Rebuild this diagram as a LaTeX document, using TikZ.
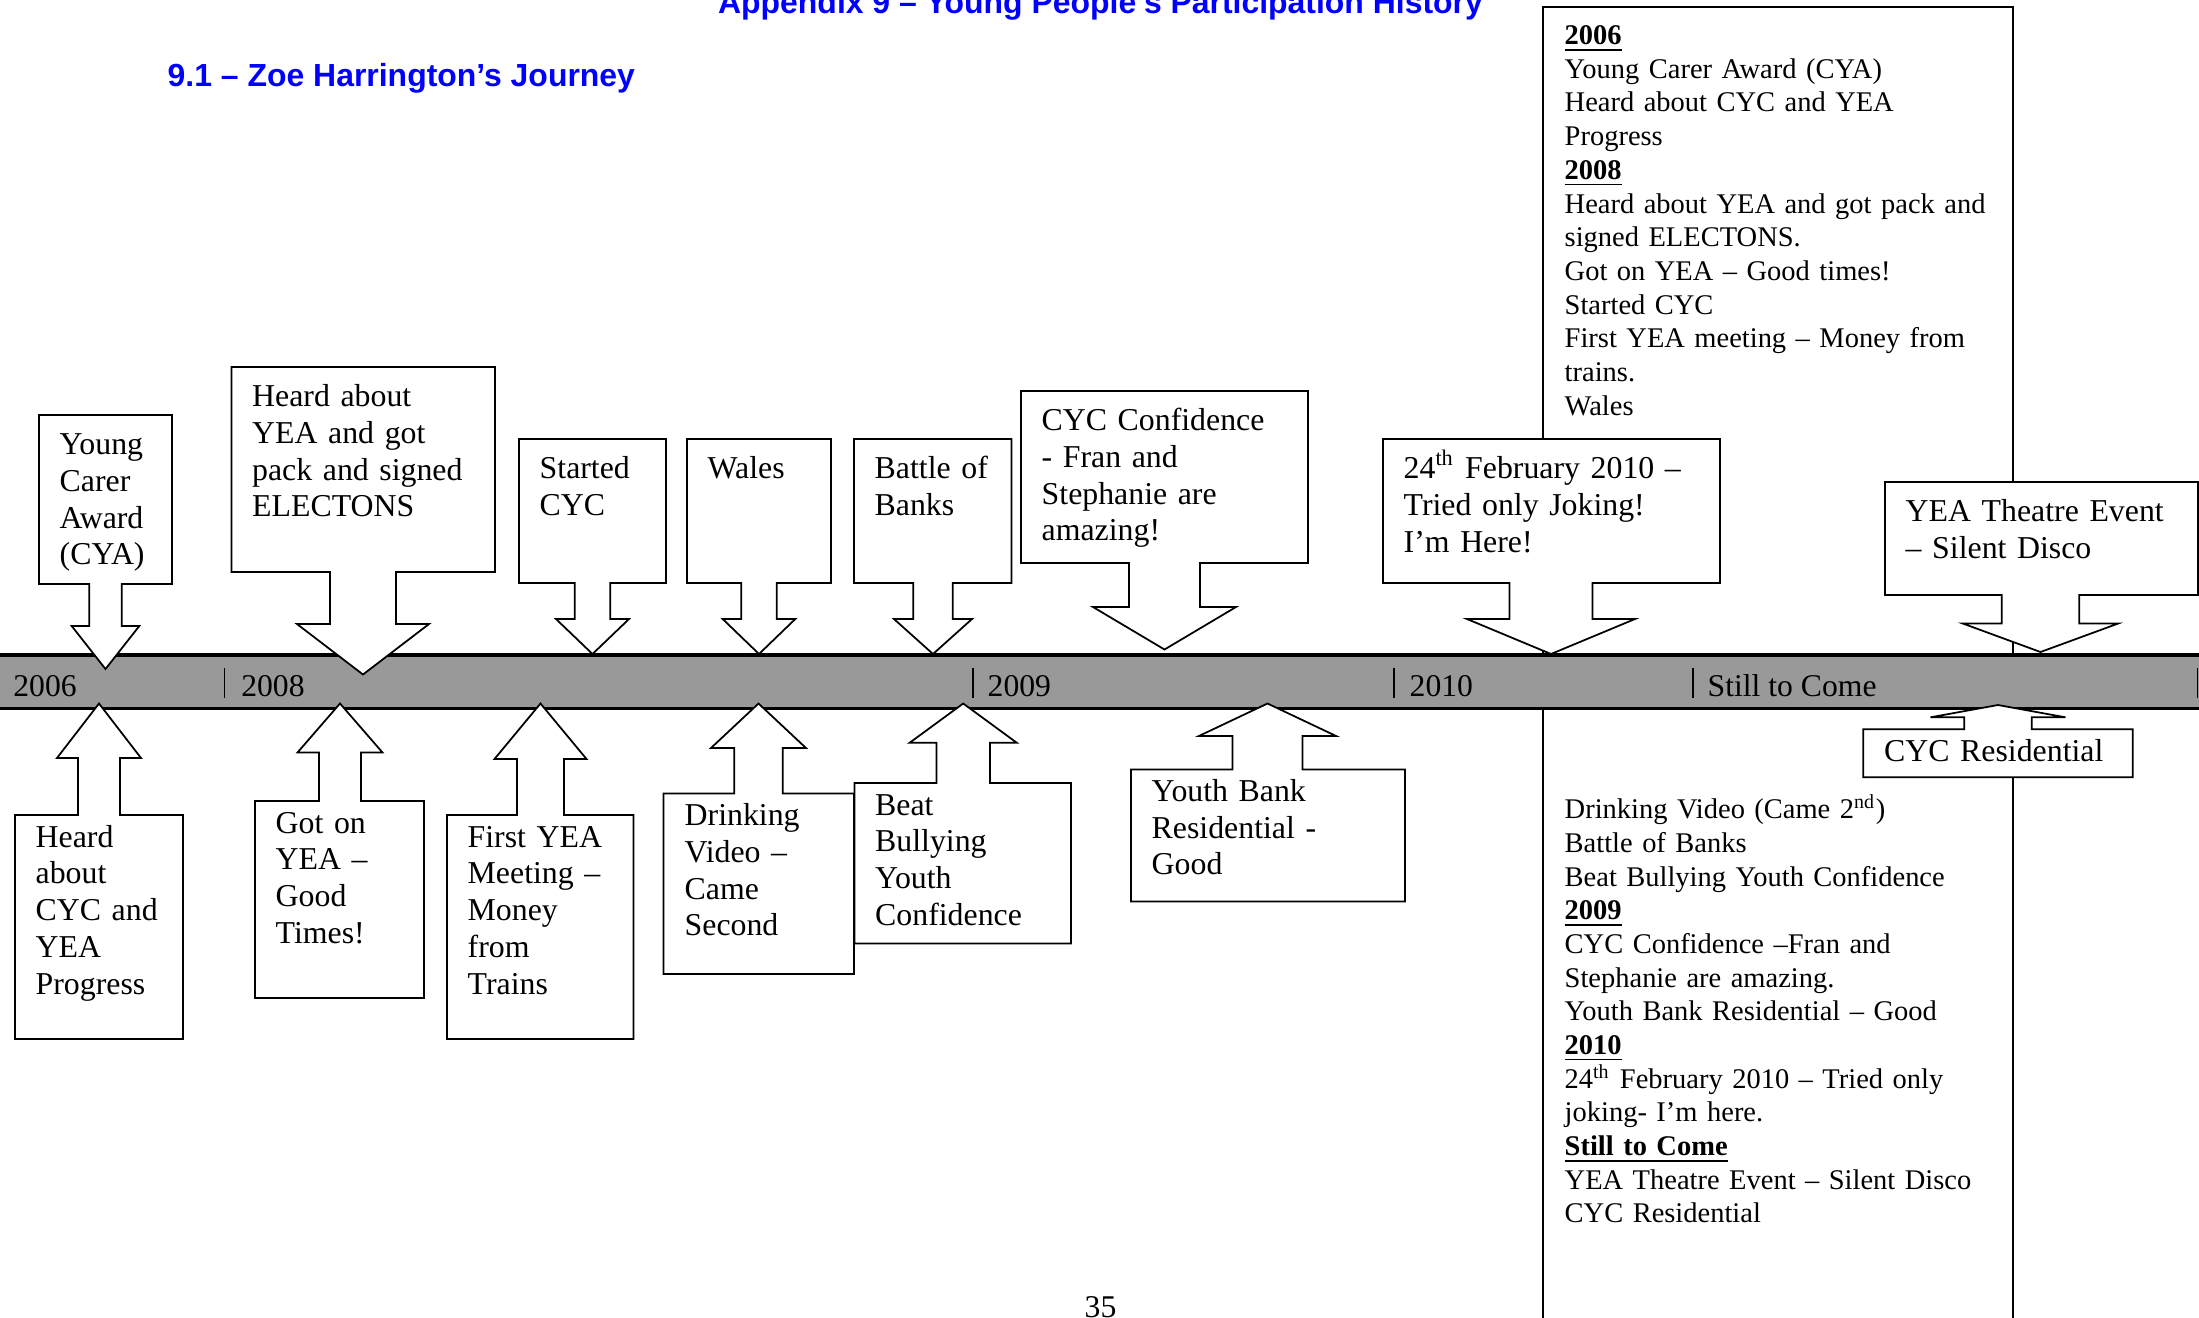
\documentclass[tikz,border=0pt]{standalone}
\usepackage{fontspec}
\setmainfont{Liberation Serif}
\newfontfamily\headfont{Liberation Sans}
\usepackage{xcolor}
\RequirePackage{tikz}
\usetikzlibrary{positioning,calc}

\definecolor{bandgray}{RGB}{153,153,153}
\definecolor{headblue}{RGB}{0,0,255}

% box edge at #2 and #4, arrow tip at (#5,#9)
\newcommand{\arrowcallout}[9]{%
  \draw[callout] (#1,#2) -- (#3,#2) -- (#3,#4) -- ({#5+#6},#4) -- ({#5+#6},#8)
    -- ({#5+#7},#8) -- (#5,#9) -- ({#5-#7},#8) -- ({#5-#6},#8) -- ({#5-#6},#4)
    -- (#1,#4) -- cycle;}

\begin{document}
\begin{tikzpicture}[x=0.01cm, y=-0.01cm,
    callout/.style={draw=black, line width=0.5pt, fill=white},
    bubble/.style={anchor=base west, inner sep=0pt, text width=5cm, align=left,
      font=\fontsize{9.05}{10.45}\selectfont},
    history/.style={anchor=base west, inner sep=0pt, text width=6cm, align=left,
      font=\fontsize{8.1}{9.58}\selectfont},
    yearlabel/.style={anchor=base west, inner sep=0pt, font=\fontsize{9}{10}\selectfont},
    heading/.style={inner sep=0pt, text=headblue, font=\headfont\bfseries\fontsize{9.08}{10}\selectfont}]
\useasboundingbox (0,0) rectangle (2199,1317);

\node[heading, anchor=base] (apptitle) at (1100.5,13.3) {Appendix 9 – Young People’s Participation History};
\node[heading, anchor=base west] (journey) at (167,86.2) {9.1 – Zoe Harrington’s Journey};

% summary box
\draw[line width=0.45pt, fill=white] (1543,7) rectangle (2013,1340);
\node[history] (hist1) at (1564,44.6) {\underline{\textbf{2006}}\\
  Young Carer Award (CYA)\\
  Heard about CYC and YEA\\
  Progress\\
  \underline{\textbf{2008}}\\
  Heard about YEA and got pack and\\
  signed ELECTONS.\\
  Got on YEA – Good times!\\
  Started CYC\\
  First YEA meeting – Money from\\
  trains.\\
  Wales};
\node[history] (hist2) at (1564,818.7) {Drinking Video (Came 2\textsuperscript{nd})\\
  Battle of Banks\\
  Beat Bullying Youth Confidence\\
  \underline{\textbf{2009}}\\
  CYC Confidence –Fran and\\
  Stephanie are amazing.\\
  Youth Bank Residential – Good\\
  \underline{\textbf{2010}}\\
  24\textsuperscript{th} February 2010 – Tried only\\
  joking- I’m here.\\
  \underline{\textbf{Still to Come}}\\
  YEA Theatre Event – Silent Disco\\
  CYC Residential};

% timeline
\fill[bandgray] (-10,655) rectangle (2210,708.7);
\draw[line width=1pt] (-10,655) -- (2210,655);
\draw[line width=1pt] (-10,708.7) -- (2210,708.7);
\foreach \tx in {224.5,973,1393.7,1693,2197.5}
  \draw[line width=0.5pt] (\tx,667.5) -- (\tx,698);
\node[yearlabel] (y2006) at (12.7,696) {2006};
\node[yearlabel] (y2008) at (240.6,696) {2008};
\node[yearlabel] (y2009) at (987,696) {2009};
\node[yearlabel] (y2010) at (1409,696) {2010};
\node[yearlabel] (ystill) at (1707,696) {Still to Come};

% callouts above
\arrowcallout{39}{415}{172}{584}{105.5}{16.2}{33.8}{626}{669}
\arrowcallout{231.5}{367}{495}{572}{363}{33}{66}{624}{674.5}
\arrowcallout{519}{439}{666}{583}{592.5}{17.7}{36.5}{619}{654}
\arrowcallout{687}{439}{831}{583}{759}{17.8}{36.3}{619}{654}
\arrowcallout{854}{439}{1011.5}{583}{933}{19.8}{39}{619}{654}
\arrowcallout{1021}{391}{1308}{563}{1164.5}{35.5}{71.5}{607}{649.5}
\arrowcallout{1383}{439}{1720}{583}{1551}{41.5}{84}{619}{654}
\arrowcallout{1885}{482}{2198}{595}{2040.5}{38.8}{77.7}{623.5}{652}

% callouts below
\arrowcallout{15}{1039}{183}{815}{99}{21}{42}{758}{703.5}
\arrowcallout{255}{998}{424}{801}{340}{21}{42.5}{752.5}{703.5}
\arrowcallout{447}{1039}{633.5}{815}{540.5}{23.5}{46}{759}{703.5}
\arrowcallout{663.6}{974}{854}{793.5}{758.5}{24.3}{47.5}{748}{703.5}
\arrowcallout{854.4}{943.6}{1071}{783}{963.2}{26.7}{53.5}{742.7}{703.5}
\arrowcallout{1131}{901.5}{1405}{769.4}{1267.5}{35}{68.6}{736}{703.5}
\arrowcallout{1863.3}{777.3}{2132.7}{729.3}{1998}{33.7}{67.5}{717.3}{705}

\node[bubble] (carer) at (59,454.5) {Young\\Carer\\Award\\(CYA)};
\node[bubble] (pack) at (251.5,406.5) {Heard about\\YEA and got\\pack and signed\\ELECTONS};
\node[bubble] (started) at (539,478.5) {Started\\CYC};
\node[bubble] (wales) at (707,478.5) {Wales};
\node[bubble] (battle) at (874,478.5) {Battle of\\Banks};
\node[bubble] (confid) at (1041,430.5) {CYC Confidence\\- Fran and\\Stephanie are\\amazing!};
\node[bubble] (feb) at (1403,478.5) {24\textsuperscript{th} February 2010 –\\Tried only Joking!\\I’m Here!};
\node[bubble] (theatre) at (1905,521.5) {YEA Theatre Event\\– Silent Disco};

\node[bubble] (progress) at (35,847) {Heard\\about\\CYC and\\YEA\\Progress};
\node[bubble] (goton) at (275,833) {Got on\\YEA –\\Good\\Times!};
\node[bubble] (meeting) at (467,847) {First YEA\\Meeting –\\Money\\from\\Trains};
\node[bubble] (video) at (684,825.5) {Drinking\\Video –\\Came\\Second};
\node[bubble] (bullying) at (874.5,815) {Beat\\Bullying\\Youth\\Confidence};
\node[bubble] (youthbank) at (1151,801.4) {Youth Bank\\Residential -\\Good};
\node[bubble] (resid) at (1883.5,761.3) {CYC Residential};

\node[anchor=base, inner sep=0pt, font=\fontsize{9}{10}\selectfont] (pagenum) at (1100.5,1317) {35};
\end{tikzpicture}
\end{document}
